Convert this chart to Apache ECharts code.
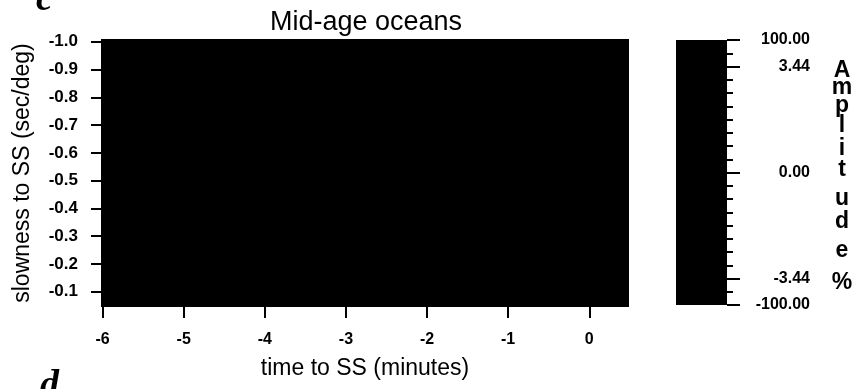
<!DOCTYPE html>
<html><head><meta charset="utf-8">
<script src="https://cdn.jsdelivr.net/npm/echarts@6/dist/echarts.min.js"></script>
<style>html,body{margin:0;padding:0;background:#fff}#c{width:865px;height:389px}</style>
</head><body><div id="c"></div>
<script>
// ---- data ----
const timeTicks = [-6, -5, -4, -3, -2, -1, 0];
const slownessTicks = [-1.0, -0.9, -0.8, -0.7, -0.6, -0.5, -0.4, -0.3, -0.2, -0.1];
const timeExtent = [-6.02, 0.49];
const slownessExtent = [-1.01, -0.045];
// image cells: [tStart, tEnd, sStart, sEnd, amplitude %]  (whole image saturated / black)
const imageCells = [[-6.02, 0.49, -1.01, -0.045, 100]];
const colorbarLevelCount = 20;
const colorbarLabelLevels = [0, 2, 10, 18, 20];
const colorbarLabels = ['100.00', '3.44', '0.00', '-3.44', '-100.00'];
const colorbarCells = [[0, 1, 0, 20]];

const FONT = '"Liberation Sans", Arial, sans-serif';
const chart = echarts.init(document.getElementById('c'), null, {renderer: 'canvas'});

function rectItem(params, api) {
  const p0 = api.coord([api.value(0), api.value(2)]);
  const p1 = api.coord([api.value(1), api.value(3)]);
  return {
    type: 'rect',
    shape: {x: Math.min(p0[0], p1[0]), y: Math.min(p0[1], p1[1]),
            width: Math.abs(p1[0] - p0[0]), height: Math.abs(p1[1] - p0[1])},
    style: {fill: '#000'}
  };
}

const letters = 'Amplitude%'.split('');
const letterBaselines = [79, 96, 114, 134, 157, 178, 207, 230, 259, 291];
const letterGraphics = letters.map((ch, i) => ({
  type: 'text', silent: true,
  style: {text: ch, x: 842, y: letterBaselines[i] - 8, align: 'center', verticalAlign: 'middle',
          font: 'bold 23px ' + FONT, fill: '#000'}
}));

const cbGrid = {left: 676, right: 138, top: 40, bottom: 84};
const hiddenLine = {show: false, onZero: false};

chart.setOption({
  animation: false,
  backgroundColor: '#fff',
  title: {
    text: 'Mid-age oceans', left: 361, top: 4, textAlign: 'center',
    textStyle: {fontFamily: FONT, fontSize: 27, fontWeight: 'normal', color: '#000'}
  },
  grid: [
    {left: 101, right: 236, top: 39, bottom: 82},
    Object.assign({}, cbGrid),
    Object.assign({}, cbGrid)
  ],
  xAxis: [
    {
      gridIndex: 0, type: 'value', min: timeExtent[0], max: timeExtent[1], position: 'bottom',
      axisLine: hiddenLine, splitLine: {show: false},
      axisTick: {show: true, customValues: timeTicks, length: 11, lineStyle: {color: '#000', width: 2}},
      axisLabel: {customValues: timeTicks, margin: 25, color: '#000', fontFamily: FONT, fontSize: 16, fontWeight: 'bold',
                  formatter: v => String(Math.round(v))},
      name: 'time to SS (minutes)', nameLocation: 'middle', nameGap: 50,
      nameTextStyle: {fontFamily: FONT, fontSize: 23, color: '#000'}
    },
    {gridIndex: 1, type: 'value', min: 0, max: 1, show: false, axisLine: hiddenLine},
    {gridIndex: 2, type: 'value', min: 0, max: 1, show: false, axisLine: hiddenLine}
  ],
  yAxis: [
    {
      gridIndex: 0, type: 'value', inverse: true, min: slownessExtent[0], max: slownessExtent[1], position: 'left',
      axisLine: hiddenLine, splitLine: {show: false},
      axisTick: {show: true, customValues: slownessTicks, length: 10, lineStyle: {color: '#000', width: 2}},
      axisLabel: {customValues: slownessTicks, margin: 23, color: '#000', fontFamily: FONT, fontSize: 17, fontWeight: 'bold',
                  formatter: v => v.toFixed(1)},
      name: 'slowness to SS (sec/deg)', nameLocation: 'middle', nameGap: 67,
      nameTextStyle: {fontFamily: FONT, fontSize: 23, color: '#000'}
    },
    {
      gridIndex: 1, type: 'value', position: 'right', inverse: true, min: 0, max: colorbarLevelCount, interval: 1,
      axisLine: hiddenLine, splitLine: {show: false},
      axisTick: {show: true, length: 6, lineStyle: {color: '#000', width: 2}},
      axisLabel: {show: false}
    },
    {
      gridIndex: 2, type: 'value', position: 'right', inverse: true, min: 0, max: colorbarLevelCount,
      axisLine: hiddenLine, splitLine: {show: false},
      axisTick: {show: true, customValues: colorbarLabelLevels, length: 13, lineStyle: {color: '#000', width: 2}},
      axisLabel: {customValues: colorbarLabelLevels, margin: 83, align: 'right', color: '#000',
                  fontFamily: FONT, fontSize: 16, fontWeight: 'bold',
                  formatter: v => colorbarLabels[colorbarLabelLevels.indexOf(Math.round(v))]}
    }
  ],
  series: [
    {type: 'custom', xAxisIndex: 0, yAxisIndex: 0, data: imageCells, encode: {x: [0, 1], y: [2, 3]},
     renderItem: rectItem, silent: true, z: 1},
    {type: 'custom', xAxisIndex: 1, yAxisIndex: 1, data: colorbarCells, encode: {x: [0, 1], y: [2, 3]},
     renderItem: rectItem, silent: true, z: 1}
  ],
  graphic: [
    {type: 'text', silent: true, style: {text: 'c', x: 36, y: 0, verticalAlign: 'middle',
      font: 'italic bold 38px "Liberation Serif", serif', fill: '#000'}},
    {type: 'text', silent: true, style: {text: 'd', x: 40, y: 386, verticalAlign: 'middle',
      font: 'italic bold 38px "Liberation Serif", serif', fill: '#000'}}
  ].concat(letterGraphics)
});
</script></body></html>
